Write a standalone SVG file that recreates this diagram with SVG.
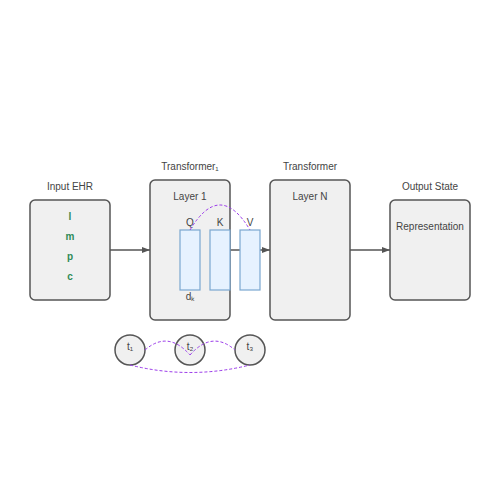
<svg xmlns="http://www.w3.org/2000/svg" width="500" height="500" viewBox="0 0 500 500">
<defs>
<marker id="arr" markerWidth="8" markerHeight="6" refX="8" refY="3" orient="auto" markerUnits="userSpaceOnUse">
<path d="M0,0 L8,3 L0,6 Z" fill="#555"/>
</marker>
<style>
.box{fill:#f0f0f0;stroke:#555;stroke-width:1.5}
.vec{fill:#e6f2ff;stroke:#7ba7d0;stroke-width:1.2}
.lbl{font-family:"Liberation Sans",Arial,sans-serif;font-size:10px;fill:#444;text-anchor:middle}
.tok{font-family:"Liberation Sans",Arial,sans-serif;font-size:10px;font-weight:bold;fill:#2e8b57;text-anchor:middle}
.flow{stroke:#555;stroke-width:1.5;fill:none;marker-end:url(#arr)}
.att{stroke:#9b3bea;stroke-width:1;stroke-dasharray:3,2;fill:none}
</style>
</defs>
<rect width="500" height="500" fill="#fff"/>
<g id="connectors">
<line class="flow" x1="110" y1="250" x2="150" y2="250"/>
<line class="flow" x1="230" y1="250" x2="270" y2="250"/>
<line class="flow" x1="350" y1="250" x2="390" y2="250"/>
</g>
<g id="input">
<text class="lbl" x="70" y="190">Input EHR</text>
<rect class="box" x="30" y="200" width="80" height="100" rx="5"/>
<text class="tok" x="70" y="220">l</text>
<text class="tok" x="70" y="240">m</text>
<text class="tok" x="70" y="260">p</text>
<text class="tok" x="70" y="280">c</text>
</g>
<g id="layer1">
<text class="lbl" x="190" y="170">Transformer₁</text>
<rect class="box" x="150" y="180" width="80" height="140" rx="5"/>
<text class="lbl" x="190" y="200">Layer 1</text>
</g>
<g id="q">
<text class="lbl" x="190" y="226">Q</text>
<rect class="vec" x="180" y="230" width="20" height="60"/>
<text class="lbl" x="190" y="300">dₖ</text>
</g>
<g id="k">
<text class="lbl" x="220" y="226">K</text>
<rect class="vec" x="210" y="230" width="20" height="60"/>
</g>
<g id="v">
<text class="lbl" x="250" y="226">V</text>
<rect class="vec" x="240" y="230" width="20" height="60"/>
</g>
<g id="layerN">
<text class="lbl" x="310" y="170">Transformer</text>
<rect class="box" x="270" y="180" width="80" height="140" rx="5"/>
<text class="lbl" x="310" y="200">Layer N</text>
</g>
<g id="output">
<text class="lbl" x="430" y="190">Output State</text>
<rect class="box" x="390" y="200" width="80" height="100" rx="5"/>
<text class="lbl" x="430" y="230">Representation</text>
</g>
<g id="t1">
<circle class="box" cx="130" cy="350" r="15"/>
<text class="lbl" x="130" y="350">t₁</text>
</g>
<g id="t2">
<circle class="box" cx="190" cy="350" r="15"/>
<text class="lbl" x="190" y="350">t₂</text>
</g>
<g id="t3">
<circle class="box" cx="250" cy="350" r="15"/>
<text class="lbl" x="250" y="350">t₃</text>
</g>
<g id="attention">
<path class="att" d="M190,230 Q220,180 250,230"/>
<path class="att" d="M145,350 Q168,330 190,355"/>
<path class="att" d="M190,355 Q212,330 235,350"/>
<path class="att" d="M130,365 Q190,380 250,365"/>
</g>
</svg>
